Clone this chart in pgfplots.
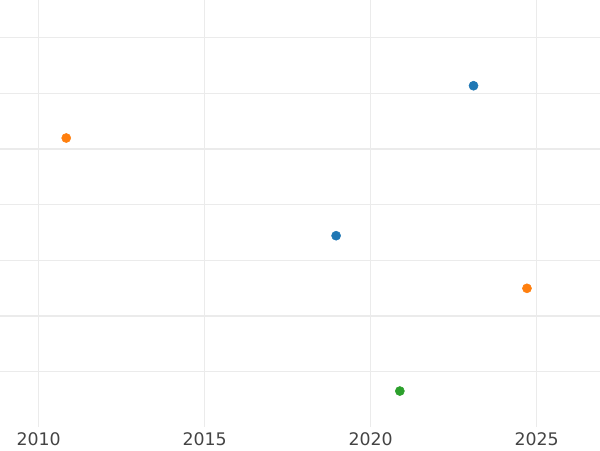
\documentclass[border=0pt]{standalone}
\usepackage{pgfplots}
\pgfplotsset{compat=1.18}
\usepackage{fontspec}
\setmainfont{DejaVu Sans}
\definecolor{c1}{HTML}{1F77B4}
\definecolor{c2}{HTML}{FF7F0E}
\definecolor{c3}{HTML}{2CA02C}
\definecolor{gridc}{HTML}{EBEBEB}
\definecolor{tickc}{HTML}{444444}
\begin{document}
\begin{tikzpicture}
\begin{axis}[name=ax, at={(0,0)}, anchor=south west,
  scale only axis, width=450pt, height=320.25pt,
  xmin=2008.835, xmax=2026.91, ymin=-0.993, ymax=6.677,
  axis line style={draw=none},
  xtick={2010,2015,2020,2025}, ytick={0,...,6}, yticklabels={},
  major tick length=0pt,
  grid=major, major grid style={gridc, line width=0.9pt},
  /pgf/number format/assume math mode=true,
  /pgf/number format/set thousands separator={},
  xticklabel style={font=\fontsize{13}{15}\selectfont, text=tickc, yshift=-1pt},
  clip=false]
\addplot[only marks, mark=*, mark size=3.4pt, c1, mark options={draw=none, fill=c1}] coordinates {(2023.10,5.137) (2018.96,2.443)};
\addplot[only marks, mark=*, mark size=3.4pt, c2, mark options={draw=none, fill=c2}] coordinates {(2010.83,4.198) (2024.71,1.498)};
\addplot[only marks, mark=*, mark size=3.4pt, c3, mark options={draw=none, fill=c3}] coordinates {(2020.88,-0.347)};
\end{axis}
\pgfresetboundingbox
\path[use as bounding box] (ax.south west) ++(0,-17.25pt) rectangle (ax.north east);
\end{tikzpicture}
\end{document}
